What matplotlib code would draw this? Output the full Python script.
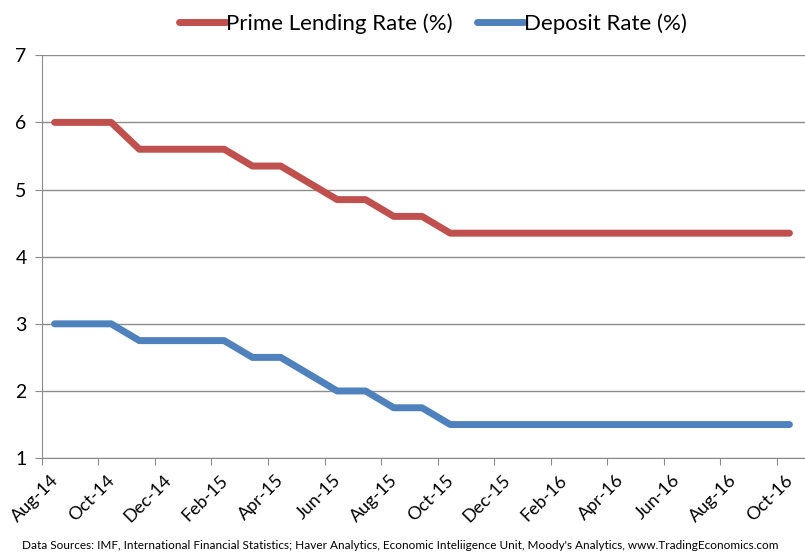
import numpy as np
import matplotlib
matplotlib.use('Agg')
import matplotlib.pyplot as plt
import matplotlib.transforms as mtransforms

plt.rcParams['font.family'] = ['Lato', 'DejaVu Sans']

# monthly data, Aug-14 .. Oct-16
months = ['Aug-14', 'Sep-14', 'Oct-14', 'Nov-14', 'Dec-14', 'Jan-15', 'Feb-15',
          'Mar-15', 'Apr-15', 'May-15', 'Jun-15', 'Jul-15', 'Aug-15', 'Sep-15',
          'Oct-15', 'Nov-15', 'Dec-15', 'Jan-16', 'Feb-16', 'Mar-16', 'Apr-16',
          'May-16', 'Jun-16', 'Jul-16', 'Aug-16', 'Sep-16', 'Oct-16']
lending = [6.0, 6.0, 6.0, 5.6, 5.6, 5.6, 5.6, 5.35, 5.35, 5.1, 4.85, 4.85,
           4.6, 4.6, 4.35, 4.35, 4.35, 4.35, 4.35, 4.35, 4.35, 4.35, 4.35,
           4.35, 4.35, 4.35, 4.35]
deposit = [3.0, 3.0, 3.0, 2.75, 2.75, 2.75, 2.75, 2.5, 2.5, 2.25, 2.0, 2.0,
           1.75, 1.75, 1.5, 1.5, 1.5, 1.5, 1.5, 1.5, 1.5, 1.5, 1.5,
           1.5, 1.5, 1.5, 1.5]
source = ("Data Sources: IMF, International Financial Statistics; Haver Analytics, "
          "Economic Inteliigence Unit, Moody's Analytics, www.TradingEconomics.com")

fig = plt.figure(figsize=(8.05, 5.58), dpi=100)
ax = fig.add_axes([0.052, 0.179, 0.948, 0.722])

x = np.arange(len(months)) + 0.45   # points sit mid-month
ax.plot(x, lending, color='#C0504D', lw=5, solid_capstyle='round',
        solid_joinstyle='round', label='Prime Lending Rate (%)')
ax.plot(x, deposit, color='#4F81BD', lw=5, solid_capstyle='round',
        solid_joinstyle='round', label='Deposit Rate (%)')

ax.set_xlim(0, 27)
ax.set_ylim(1, 7)
ax.set_yticks(range(1, 8))
ax.tick_params(axis='y', labelsize=14, length=5, color='#8c8c8c', pad=6)
tick_pos = np.arange(0, len(months), 2)
ax.set_xticks(tick_pos)
ax.set_xticklabels([months[i] for i in tick_pos], rotation=45, ha='right',
                   rotation_mode='anchor', fontsize=13)
ax.tick_params(axis='x', length=5, color='#8c8c8c', pad=5)
shift = mtransforms.ScaledTranslation(8 / 100, 0, fig.dpi_scale_trans)
for lab in ax.get_xticklabels():
    lab.set_transform(lab.get_transform() + shift)

ax.grid(True, axis='y', color='#8c8c8c', lw=1)
ax.set_axisbelow(True)
for s in ['top', 'right']:
    ax.spines[s].set_visible(False)
for s in ['left', 'bottom']:
    ax.spines[s].set_color('#8c8c8c')

leg = fig.legend(loc='upper center', bbox_to_anchor=(0.538, 1.012), ncol=2,
                 frameon=False, fontsize=16, handlelength=2.1,
                 handletextpad=0.0, columnspacing=1.1)

fig.text(0.497, 0.013, source, ha='center', va='bottom', fontsize=8.5)

plt.savefig('out.png', dpi=100)
